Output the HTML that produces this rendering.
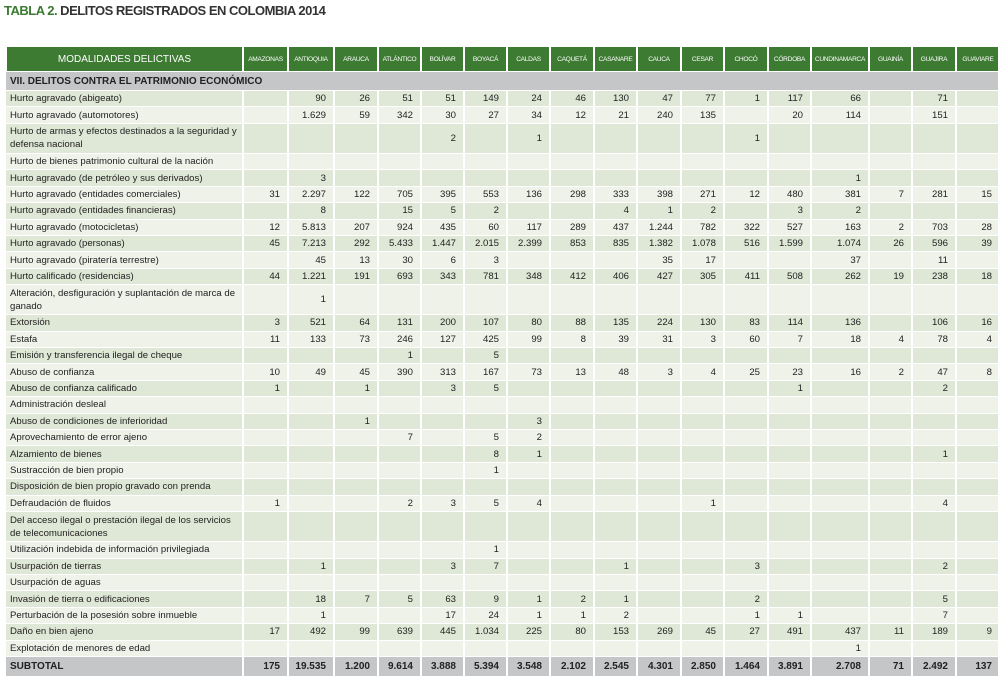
<!DOCTYPE html>
<html><head><meta charset="utf-8">
<style>
html,body{margin:0;padding:0;background:#fff;width:998px;height:676px;overflow:hidden}
body{font-family:"Liberation Sans",sans-serif;position:relative}
#title{position:absolute;left:4px;top:3px;font-size:13px;font-weight:bold;color:#333;letter-spacing:-0.5px}
#title span{color:#3b7a31}
table{position:absolute;left:5px;top:47px;border-collapse:collapse;table-layout:fixed;width:993px}
td,th{padding:0;border-left:2px solid #fff;border-bottom:1px solid #fff;font-size:9.6px;color:#222;overflow:hidden;white-space:nowrap}
th{background:#3d7b33;color:#fff;font-weight:normal;font-size:6.6px;height:24px;text-align:center;letter-spacing:-0.3px}
th.first{font-size:10px;letter-spacing:0}
td.lab{padding-left:4px;text-align:left;white-space:normal;line-height:13px}
td.num{text-align:right;padding-right:7px}
tr.dark td{background:#dfe7d6}
tr.light td{background:#eef2e9}
tr.sec td{background:#c5c6c8;font-weight:bold;height:18px;font-size:10px}
tr.sub td{background:#c5c6c8;font-weight:bold;height:20px;font-size:10px}
tr:first-child th:first-child,td:first-child{border-left:none}
</style></head><body>
<div id="title"><span>TABLA 2.</span> DELITOS REGISTRADOS EN COLOMBIA 2014</div>
<table id="t"></table>
<script>
const departments=["AMAZONAS","ANTIOQUIA","ARAUCA","ATLÁNTICO","BOLÍVAR","BOYACÁ","CALDAS","CAQUETÁ","CASANARE","CAUCA","CESAR","CHOCÓ","CÓRDOBA","CUNDINAMARCA","GUAINÍA","GUAJIRA","GUAVIARE"];
const colWidths=[237,45,46,44,43,43,43,43,44,43,44,43,44,43,58,43,44,43];
const crimes=["Hurto agravado (abigeato)","Hurto agravado (automotores)","Hurto de armas y efectos destinados a la seguridad y defensa nacional","Hurto de bienes patrimonio cultural de la nación","Hurto agravado (de petróleo y sus derivados)","Hurto agravado (entidades comerciales)","Hurto agravado (entidades financieras)","Hurto agravado (motocicletas)","Hurto agravado (personas)","Hurto agravado (piratería terrestre)","Hurto calificado (residencias)","Alteración, desfiguración y suplantación de marca de ganado","Extorsión","Estafa","Emisión y transferencia ilegal de cheque","Abuso de confianza","Abuso de confianza calificado","Administración desleal","Abuso de condiciones de inferioridad","Aprovechamiento de error ajeno","Alzamiento de bienes","Sustracción de bien propio","Disposición de bien propio gravado con prenda","Defraudación de fluidos","Del acceso ilegal o prestación ilegal de los servicios de telecomunicaciones","Utilización indebida de información privilegiada","Usurpación de tierras","Usurpación de aguas","Invasión de tierra o edificaciones","Perturbación de la posesión sobre inmueble","Daño en bien ajeno","Explotación de menores de edad"];
const values=[
["","90","26","51","51","149","24","46","130","47","77","1","117","66","","71",""],
["","1.629","59","342","30","27","34","12","21","240","135","","20","114","","151",""],
["","","","","2","","1","","","","","1","","","","",""],
["","","","","","","","","","","","","","","","",""],
["","3","","","","","","","","","","","","1","","",""],
["31","2.297","122","705","395","553","136","298","333","398","271","12","480","381","7","281","15"],
["","8","","15","5","2","","","4","1","2","","3","2","","",""],
["12","5.813","207","924","435","60","117","289","437","1.244","782","322","527","163","2","703","28"],
["45","7.213","292","5.433","1.447","2.015","2.399","853","835","1.382","1.078","516","1.599","1.074","26","596","39"],
["","45","13","30","6","3","","","","35","17","","","37","","11",""],
["44","1.221","191","693","343","781","348","412","406","427","305","411","508","262","19","238","18"],
["","1","","","","","","","","","","","","","","",""],
["3","521","64","131","200","107","80","88","135","224","130","83","114","136","","106","16"],
["11","133","73","246","127","425","99","8","39","31","3","60","7","18","4","78","4"],
["","","","1","","5","","","","","","","","","","",""],
["10","49","45","390","313","167","73","13","48","3","4","25","23","16","2","47","8"],
["1","","1","","3","5","","","","","","","1","","","2",""],
["","","","","","","","","","","","","","","","",""],
["","","1","","","","3","","","","","","","","","",""],
["","","","7","","5","2","","","","","","","","","",""],
["","","","","","8","1","","","","","","","","","1",""],
["","","","","","1","","","","","","","","","","",""],
["","","","","","","","","","","","","","","","",""],
["1","","","2","3","5","4","","","","1","","","","","4",""],
["","","","","","","","","","","","","","","","",""],
["","","","","","1","","","","","","","","","","",""],
["","1","","","3","7","","","1","","","3","","","","2",""],
["","","","","","","","","","","","","","","","",""],
["","18","7","5","63","9","1","2","1","","","2","","","","5",""],
["","1","","","17","24","1","1","2","","","1","1","","","7",""],
["17","492","99","639","445","1.034","225","80","153","269","45","27","491","437","11","189","9"],
["","","","","","","","","","","","","","1","","",""]];
const subtotals=["175","19.535","1.200","9.614","3.888","5.394","3.548","2.102","2.545","4.301","2.850","1.464","3.891","2.708","71","2.492","137"];
const doubleRows=[2,11,24];

const t=document.getElementById('t');
const cg=document.createElement('colgroup');
colWidths.forEach(w=>{const c=document.createElement('col');c.style.width=w+'px';cg.appendChild(c);});
t.appendChild(cg);
const hr=document.createElement('tr');


const h0=document.createElement('th');h0.className='first';h0.textContent='MODALIDADES DELICTIVAS';


hr.appendChild(h0);
departments.forEach(d=>{const th=document.createElement('th');th.textContent=d;


hr.appendChild(th);});
t.appendChild(hr);
const sr=document.createElement('tr');sr.className='sec';


const sc=document.createElement('td');sc.className='lab';sc.colSpan=18;sc.textContent='VII. DELITOS CONTRA EL PATRIMONIO ECONÓMICO';sr.appendChild(sc);
t.appendChild(sr);
crimes.forEach((c,i)=>{
  const tr=document.createElement('tr');tr.className=i%2===0?'dark':'light';
  
  
  const h=doubleRows.includes(i)?29.2:15.4;
  const l=document.createElement('td');l.className='lab';l.textContent=c;l.style.height=h+'px';
  
  
  tr.appendChild(l);
  values[i].forEach(v=>{const td=document.createElement('td');td.className='num';td.textContent=v;
    
    
    tr.appendChild(td);});
  t.appendChild(tr);
});
const st=document.createElement('tr');st.className='sub';


const sl=document.createElement('td');sl.className='lab';sl.textContent='SUBTOTAL';st.appendChild(sl);
subtotals.forEach(v=>{const td=document.createElement('td');td.className='num';td.textContent=v;
  
  
  st.appendChild(td);});
t.appendChild(st);
</script>
</body></html>
